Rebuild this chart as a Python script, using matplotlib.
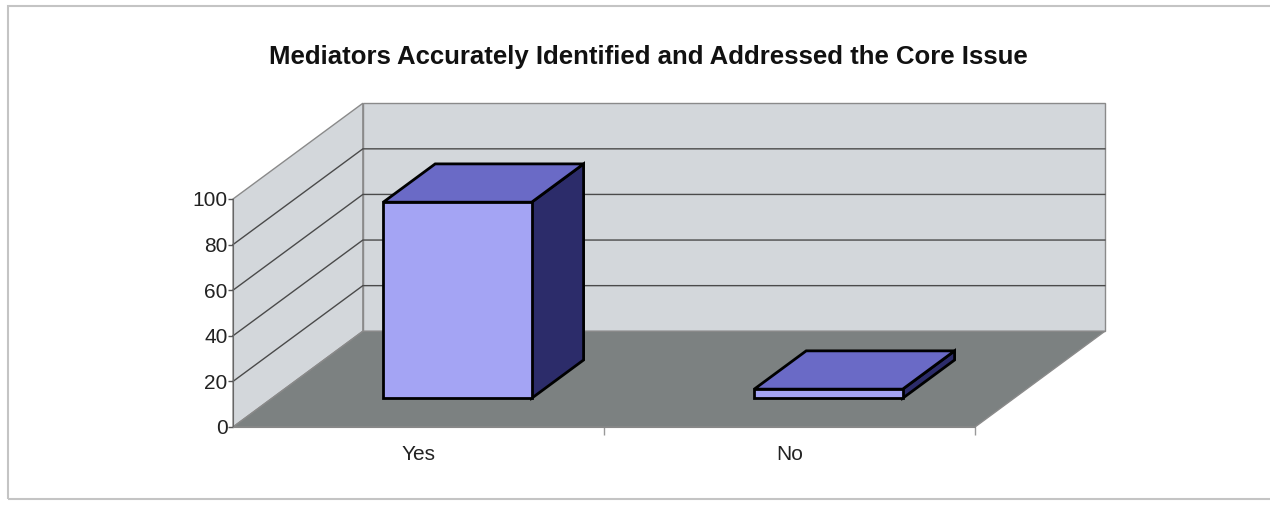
import matplotlib.pyplot as plt
from matplotlib.patches import Polygon, Rectangle

plt.rcParams['font.family'] = ['Liberation Sans', 'DejaVu Sans']

# 数据
categories = ['Yes', 'No']
values = [86, 4]
y_ticks = [0, 20, 40, 60, 80, 100]
title = 'Mediators Accurately Identified and Addressed the Core Issue'

# 斜投影：深度 d (0=前, 1=后) 在 x/y 方向上的偏移
DEPTH_X = 0.35
DEPTH_Y = 42.0
BAR_W = 0.4
BAR_D0, BAR_D1 = 0.3, 0.7

WALL = '#d3d7db'
FLOOR = '#7c8181'
GRID = '#4a4a4a'
EDGE = '#8a8a8a'
FRONT = '#a4a4f4'
TOP = '#6a6ac6'
SIDE = '#2c2c6a'


def proj(x, v, d):
    return (x + DEPTH_X * d, v + DEPTH_Y * d)


def face(ax, pts, color, lw=2.0, ec='black', z=3):
    ax.add_patch(Polygon(pts, closed=True, facecolor=color, edgecolor=ec,
                         linewidth=lw, joinstyle='miter', zorder=z, clip_on=False))


fig = plt.figure(figsize=(12.7, 5.05), dpi=100)
ax = fig.add_axes([233 / 1270, 78 / 505, 742 / 1270, 228 / 505])
ax.set_xlim(0, len(categories))
ax.set_ylim(0, 100)
ax.patch.set_visible(False)

n = len(categories)
top = y_ticks[-1]

# 侧墙和后墙
face(ax, [proj(0, 0, 0), proj(0, 0, 1), proj(0, top, 1), proj(0, top, 0)], WALL, lw=1.0, ec=EDGE, z=1)
face(ax, [proj(0, 0, 1), proj(n, 0, 1), proj(n, top, 1), proj(0, top, 1)], WALL, lw=1.0, ec=EDGE, z=1)

# 网格线
for t in y_ticks[1:-1]:
    xs, ys = zip(proj(0, t, 0), proj(0, t, 1), proj(n, t, 1))
    ax.plot(xs, ys, color=GRID, linewidth=1.0, zorder=1.5, clip_on=False)

# 地板
face(ax, [proj(0, 0, 0), proj(n, 0, 0), proj(n, 0, 1), proj(0, 0, 1)], FLOOR, lw=1.0, ec=EDGE, z=2)

# 三维柱
for i, v in enumerate(values):
    x0 = i + 0.5 - BAR_W / 2
    x1 = i + 0.5 + BAR_W / 2
    face(ax, [proj(x1, 0, BAR_D0), proj(x1, 0, BAR_D1), proj(x1, v, BAR_D1), proj(x1, v, BAR_D0)], SIDE)
    face(ax, [proj(x0, v, BAR_D0), proj(x1, v, BAR_D0), proj(x1, v, BAR_D1), proj(x0, v, BAR_D1)], TOP)
    face(ax, [proj(x0, 0, BAR_D0), proj(x1, 0, BAR_D0), proj(x1, v, BAR_D0), proj(x0, v, BAR_D0)], FRONT)

# 坐标轴
for s in ['top', 'right']:
    ax.spines[s].set_visible(False)
ax.spines['left'].set_color('#666666')
ax.spines['bottom'].set_color('#888888')
ax.spines['left'].set_zorder(4)
ax.spines['bottom'].set_zorder(4)

ax.set_yticks(y_ticks)
ax.tick_params(axis='y', direction='out', length=3.5, width=1, color='#555555',
               labelsize=15, labelcolor='#222222', pad=0.5)
ax.set_xticks([i + 0.5 for i in range(n)], categories)
ax.set_xticks(range(1, n + 1), minor=True)
ax.tick_params(axis='x', which='major', length=0, labelsize=15, labelcolor='#222222', pad=13)
ax.tick_params(axis='x', which='minor', direction='out', length=6, width=1, color='#999999')

fig.text(648 / 1270, 1 - 57 / 505, title, ha='center', va='center',
         fontsize=18.5, fontweight='bold', color='#111111')

# 外框
fig.patches.append(Rectangle((8 / 1270, 6 / 505), 1.1, 493 / 505, transform=fig.transFigure,
                             fill=False, edgecolor='#c4c4c4', linewidth=1.5))

fig.savefig('out.png', dpi=100, facecolor='white')
